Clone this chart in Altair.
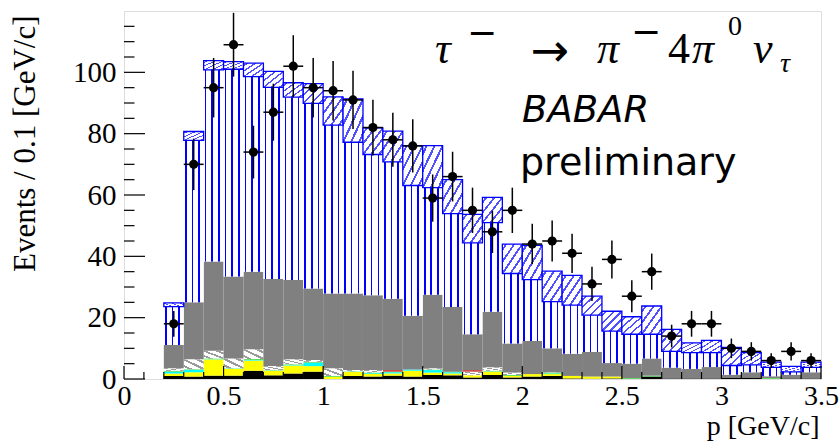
import altair as alt
import pandas as pd

# ---------------- data ----------------
bin_lo = [0.2, 0.3, 0.4, 0.5, 0.6, 0.7, 0.8, 0.9, 1.0, 1.1, 1.2, 1.3, 1.4, 1.5, 1.6, 1.7,
          1.8, 1.9, 2.0, 2.1, 2.2, 2.3, 2.4, 2.5, 2.6, 2.7, 2.8, 2.9, 3.0, 3.1, 3.2, 3.3, 3.4]

data_n = [18, 70, 95, 109, 74, 87, 102, 95, 94, 91, 82, 78, 76, 59, 66, 55,
          48, 55, 44, 45, 41, 31, 39, 27, 35, 14, 18, 18, 10, 9, 6, 9, 6]
data_err = [4.2, 8.4, 9.7, 10.4, 8.6, 9.3, 10.1, 9.7, 9.7, 9.5, 9.1, 8.8, 8.7, 7.7, 8.1, 7.4,
            6.9, 7.4, 6.6, 6.7, 6.4, 5.6, 6.2, 5.2, 5.9, 3.7, 4.2, 4.2, 3.2, 3.0, 2.4, 3.0, 2.4]

# stacked MC components (cumulative tops)
black_top = [1.0, 0.8, 1.1, 1.1, 2.7, 1.2, 1.8, 2.4, 0.0, 1.0, 0.8, 1.1, 0.8, 1.3, 1.2, 0.5,
             1.3, 0.5, 0.8, 1.0, 0.2, 0.1, 0.2, 0.0, 0.8, 0.2, 0.2, 0.2, 0.5, 0.5, 0.0, 0.2, 0.2]
yellow_top = [1.8, 2.2, 6.4, 3.3, 6.0, 2.7, 4.4, 4.2, 0.7, 2.3, 1.6, 1.8, 2.7, 2.1, 1.8, 1.2,
              2.4, 1.0, 1.6, 1.6, 1.0, 0.8, 0.8, 0.0, 0.8, 0.2, 0.2, 0.2, 0.5, 0.5, 0.0, 0.2, 0.2]
cyan_top = [2.4, 3.0, 6.5, 3.4, 6.2, 2.8, 4.6, 5.3, 0.7, 2.4, 1.9, 2.2, 3.1, 2.9, 2.2, 1.2,
            2.5, 1.0, 1.6, 1.8, 1.0, 0.8, 0.8, 0.0, 0.8, 0.2, 0.2, 0.2, 0.5, 0.5, 0.0, 0.2, 0.2]
green_top = [2.7, 3.2, 6.7, 3.5, 6.5, 2.9, 4.8, 5.6, 1.0, 2.5, 2.1, 2.4, 3.1, 3.1, 2.4, 1.2,
             2.7, 1.3, 1.6, 2.1, 1.0, 0.8, 0.8, 0.3, 1.1, 0.2, 0.2, 0.2, 0.5, 0.5, 0.3, 0.2, 0.2]
hatch_top = [3.5, 6.4, 9.2, 6.7, 9.7, 4.2, 6.4, 6.2, 3.5, 2.9, 2.9, 2.4, 3.1, 3.5, 2.4, 2.4,
             3.8, 2.1, 1.6, 2.2, 1.0, 0.8, 0.8, 0.3, 1.1, 0.2, 0.2, 0.2, 0.5, 0.5, 0.3, 0.2, 0.2]
red_top = [3.5, 6.4, 9.2, 6.7, 9.7, 4.2, 6.4, 6.2, 3.5, 2.9, 2.9, 2.9, 3.1, 3.5, 2.4, 2.9,
           3.8, 2.1, 1.6, 2.2, 1.0, 0.8, 0.8, 0.3, 1.1, 0.2, 0.2, 0.2, 0.5, 0.5, 0.3, 0.2, 0.2]
gray_top = [11.1, 25.0, 38.3, 33.4, 35.0, 32.6, 32.3, 29.5, 27.9, 27.9, 27.3, 26.2, 20.6, 27.5, 23.5, 14.6,
            21.9, 11.6, 12.4, 10.0, 8.2, 8.8, 5.2, 5.0, 6.7, 3.7, 3.3, 3.9, 1.4, 2.2, 0.9, 1.4, 2.2]
band_lo = [23.6, 77.8, 100.8, 101.0, 98.6, 95.1, 91.9, 89.9, 82.8, 77.2, 73.2, 70.8, 63.1, 62.4, 53.9, 44.4,
           51.0, 34.4, 32.4, 25.2, 24.1, 20.8, 15.6, 14.6, 14.6, 9.0, 8.6, 8.6, 4.4, 4.6, 3.8, 2.3, 3.8]
band_hi = [24.8, 80.7, 103.8, 103.5, 103.0, 100.3, 96.6, 96.3, 92.0, 91.3, 81.9, 80.8, 76.1, 76.1, 65.0, 53.7,
           59.2, 44.0, 43.6, 35.2, 33.8, 27.0, 22.1, 20.3, 23.8, 16.2, 11.8, 12.6, 10.3, 8.6, 5.5, 4.1, 5.5]

y_major = [0, 20, 40, 60, 80, 100]
y_minor = [5, 10, 15, 25, 30, 35, 45, 50, 55, 65, 70, 75, 85, 90, 95, 105, 110, 115]
x_major = [0, 0.5, 1, 1.5, 2, 2.5, 3, 3.5]
x_minor = [0.1, 0.2, 0.3, 0.4, 0.6, 0.7, 0.8, 0.9, 1.1, 1.2, 1.3, 1.4, 1.6, 1.7, 1.8, 1.9,
           2.1, 2.2, 2.3, 2.4, 2.6, 2.7, 2.8, 2.9, 3.1, 3.2, 3.3, 3.4]

x_title = "p [GeV/c]"
y_title = "Events / 0.1 [GeV/c]"
label_babar = "BABAR"
label_prelim = "preliminary"

# ---------------- table ----------------
df = pd.DataFrame({
    "lo": bin_lo, "n": data_n, "err": data_err,
    "black": black_top, "yellow": yellow_top, "cyan": cyan_top, "green": green_top,
    "hatch": hatch_top, "red": red_top, "gray": gray_top,
    "blo": band_lo, "bhi": band_hi,
})
df["hi"] = (df["lo"] + 0.1).round(2)
df["xc"] = (df["lo"] + 0.05).round(3)
df["zero"] = 0.0
df["ylo"] = df["n"] - df["err"]
df["yhi"] = df["n"] + df["err"]

W, H = 697, 368
SERIF = "Liberation Serif"
SANS = "DejaVu Sans"

xs = alt.Scale(domain=[0, 3.5], nice=False, zero=False)
ys = alt.Scale(domain=[0, 120], nice=False, zero=False)

xaxis = alt.Axis(values=x_major, format="~g", title=x_title, ticks=False, domain=False, grid=False,
                 labelFlush=False, labelFont=SERIF, labelFontSize=28, labelColor="black",
                 labelPadding=3, titleFont=SERIF, titleFontSize=28, titleFontWeight="normal",
                 titleColor="black", titleAnchor="end", titleAlign="right", titleX=695, titleY=55,
                 titleBaseline="alphabetic")
yaxis = alt.Axis(values=y_major, format="d", title=y_title, ticks=False, domain=False, grid=False,
                 labelFlush=False, labelFont=SERIF, labelFontSize=29, labelColor="black",
                 labelPadding=8, titleFont=SERIF, titleFontSize=31, titleFontWeight="normal",
                 titleColor="black", titleAngle=270, titleAnchor="end", titleAlign="right",
                 titleBaseline="middle", titleX=-99, titleY=4)


def X(f):
    return alt.X(f + ":Q", scale=xs, axis=xaxis)


def Y(f):
    return alt.Y(f + ":Q", scale=ys, axis=yaxis)


def stripes(color, centers, half, x1, y1, x2, y2):
    stops = [alt.GradientStop(color="white", offset=0)]
    for c in centers:
        a, b = max(c - half, 0), min(c + half, 1)
        stops += [alt.GradientStop(color="white", offset=a), alt.GradientStop(color=color, offset=a),
                  alt.GradientStop(color=color, offset=b), alt.GradientStop(color="white", offset=b)]
    stops.append(alt.GradientStop(color="white", offset=1))
    return alt.Gradient(gradient="linear", stops=stops, x1=x1, y1=y1, x2=x2, y2=y2)


vert_blue = stripes("#0000ff", [0.1, 0.43, 0.77], 0.04, 0, 0, 1, 0)
diag_blue = stripes("#5050ff", [0.1, 0.3, 0.5, 0.7, 0.9], 0.028, 0, 0, 1, 1)
diag_gray = stripes("#9a9a9a", [0.17, 0.5, 0.83], 0.06, 0, 1, 1, 0)

base = alt.Chart(df)


def slab(bottom, top, **mark):
    return base.mark_rect(**mark).encode(x=X("lo"), x2="hi", y=Y(bottom), y2=top)


layers = [
    slab("zero", "black", fill="black"),
    slab("black", "yellow", fill="#ffff00"),
    slab("yellow", "cyan", fill="#00ffff"),
    slab("cyan", "green", fill="#55dd55"),
    slab("green", "hatch", fill=diag_gray),
    slab("hatch", "red", fill="#cc3333"),
    slab("red", "gray", fill="#808080"),
    slab("gray", "blo", fill=vert_blue),
    slab("blo", "bhi", fill=diag_blue, stroke="#0000ff", strokeWidth=1.3),
]

# data points with error bars
layers += [
    base.mark_rule(color="black", strokeWidth=1.5).encode(x=X("xc"), y=Y("ylo"), y2="yhi"),
    base.mark_rule(color="black", strokeWidth=1.5).encode(x=X("lo"), x2="hi", y=Y("n")),
    base.mark_point(filled=True, shape="circle", size=85, color="black", opacity=1).encode(
        x=X("xc"), y=Y("n")),
]

# inward ticks (ROOT style)
ymaj = alt.Chart(pd.DataFrame({"v": y_major})).mark_rule(color="black", strokeWidth=1.2).encode(
    y=Y("v"), x=alt.value(0), x2=alt.value(21))
ymin = alt.Chart(pd.DataFrame({"v": y_minor})).mark_rule(color="black", strokeWidth=1.2).encode(
    y=Y("v"), x=alt.value(0), x2=alt.value(10.5))
xmaj = alt.Chart(pd.DataFrame({"v": x_major})).mark_rule(color="black", strokeWidth=1.2).encode(
    x=X("v"), y=alt.value(H), y2=alt.value(H - 13))
xmin = alt.Chart(pd.DataFrame({"v": x_minor})).mark_rule(color="black", strokeWidth=1.2).encode(
    x=X("v"), y=alt.value(H), y2=alt.value(H - 7))
layers += [ymaj, ymin, xmaj, xmin]


def label(txt, x, y, size, font=SERIF, italic=False, align="left"):
    kw = dict(font=font, fontSize=size, align=align, baseline="alphabetic", color="black")
    if italic:
        kw["fontStyle"] = "italic"
    return alt.Chart(pd.DataFrame({"t": [txt]})).mark_text(**kw).encode(
        x=alt.value(x), y=alt.value(y), text="t:N")


layers += [
    label("τ", 311, 52, 44, italic=True),
    label("−", 358, 34, 36, font=SANS, align="center"),
    label("→", 426, 55, 46, font=SANS, align="center"),
    label("π", 473, 52, 44, italic=True),
    label("−", 522, 33, 36, font=SANS, align="center"),
    label("4", 544, 52, 44),
    label("π", 568, 52, 44, italic=True),
    label("0", 604, 24, 28),
    label("ν", 629, 52, 44, italic=True),
    label("τ", 656, 61, 28, italic=True),
    label(label_babar, 398, 111, 37, font=SANS, italic=True),
    label(label_prelim, 396, 164, 38, font=SANS),
]

chart = alt.layer(*layers).properties(
    width=W, height=H,
    padding={"left": 124, "top": 11, "right": 19, "bottom": 63},
    autosize=alt.AutoSizeParams(type="none"),
).configure_view(stroke="#333333", strokeWidth=1.3).configure(background="white")

chart.save("out.html", embed_options={"renderer": "svg", "actions": False})
